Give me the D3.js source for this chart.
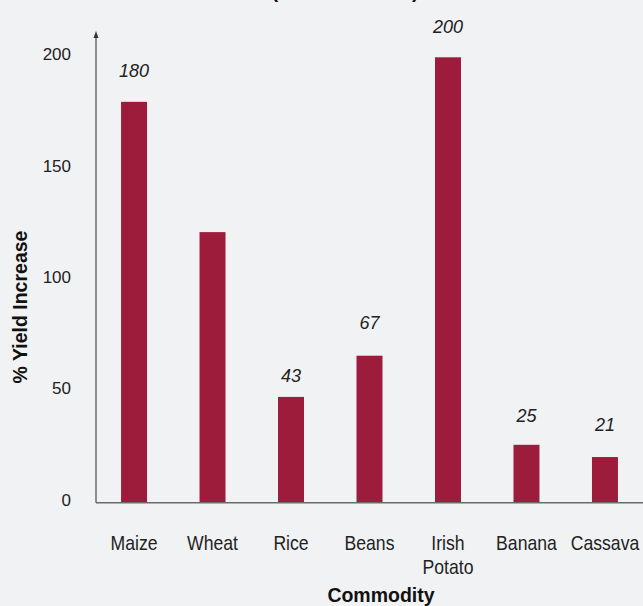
<!DOCTYPE html>
<html>
<head>
<meta charset="utf-8">
<script src="https://cdn.jsdelivr.net/npm/d3@7"></script>
<style>
  html, body { margin: 0; padding: 0; background: #f1f2f4; }
  svg { display: block; }
</style>
</head>
<body>
<svg id="chart" width="643" height="606"></svg>
<script>
// ---- data ----
const categories = ["Maize", "Wheat", "Rice", "Beans", "Irish Potato", "Banana", "Cassava"];
const yieldIncrease = [180, 121.5, 47.5, 66, 200, 26, 20.5];
const valueLabels = ["180", null, "43", "67", "200", "25", "21"];
const yTicks = [0, 50, 100, 150, 200];
const titleText = "(Yield Increase)";
const xTitle = "Commodity";
const yTitle = "% Yield Increase";

// ---- layout ----
const W = 643, H = 606;
const svg = d3.select("#chart");
const yBase = 502.7, yTop = 57.3;

const x = d3.scaleBand().domain(categories).range([97.5, 641.5]).paddingInner(0.669).paddingOuter(0.3);
const y = d3.scaleLinear().domain([0, 200]).range([yBase, yTop]);

svg.append("rect").attr("width", W).attr("height", H).attr("fill", "#f1f2f4");

// cut-off title (only its lower edge shows, as in the reference)
svg.append("text").attr("x", 345).attr("y", -2).attr("text-anchor", "middle")
  .attr("font-family", "Liberation Sans, Arial, sans-serif").attr("font-weight", "bold")
  .attr("font-size", 20).attr("fill", "#111").text(titleText);

// bars
svg.selectAll("rect.bar").data(categories).enter().append("rect")
  .attr("class", "bar")
  .attr("x", d => x(d))
  .attr("width", x.bandwidth())
  .attr("y", (d, i) => y(yieldIncrease[i]))
  .attr("height", (d, i) => yBase - y(yieldIncrease[i]))
  .attr("fill", "#9d1b3b");

// value labels
svg.selectAll("text.val").data(categories).enter().append("text")
  .attr("class", "val")
  .filter((d, i) => valueLabels[i] !== null)
  .attr("x", d => x(d) + x.bandwidth() / 2)
  .attr("y", d => y(+valueLabels[categories.indexOf(d)]) - 31)
  .attr("dy", "0.35em")
  .attr("text-anchor", "middle")
  .attr("font-family", "Liberation Sans, Arial, sans-serif")
  .attr("font-style", "italic")
  .attr("font-size", 18)
  .attr("fill", "#222")
  .text(d => valueLabels[categories.indexOf(d)]);

// axes lines
const axisColor = "#6b6b6b";
svg.append("line").attr("x1", 96).attr("x2", W + 2).attr("y1", yBase).attr("y2", yBase)
  .attr("stroke", axisColor).attr("stroke-width", 1.5);
svg.append("line").attr("x1", 96).attr("x2", 96).attr("y1", yBase).attr("y2", 35)
  .attr("stroke", axisColor).attr("stroke-width", 1.5);
svg.append("path").attr("d", "M93.5,38 L96,31 L98.5,38 Z").attr("fill", "#333");

// y tick labels
const yAxis = d3.axisLeft(y).tickValues(yTicks).tickSize(0).tickPadding(0);
const gy = svg.append("g").attr("transform", "translate(71,-3)").call(yAxis);
gy.select(".domain").remove();
gy.selectAll("text").attr("font-family", "Liberation Sans, Arial, sans-serif")
  .attr("font-size", 17).attr("fill", "#222");

// x category labels (slightly condensed, as in the reference)
const xl = svg.selectAll("text.cat").data(categories).enter().append("text")
  .attr("class", "cat")
  .attr("transform", d => `translate(${x(d) + x.bandwidth() / 2},550) scale(0.86,1)`)
  .attr("text-anchor", "middle")
  .attr("font-family", "Liberation Sans, Arial, sans-serif")
  .attr("font-size", 20.5)
  .attr("fill", "#222");
xl.each(function(d) {
  const words = d.split(" ");
  const t = d3.select(this);
  words.forEach((w, i) => {
    t.append("tspan").attr("x", 0).attr("dy", i === 0 ? 0 : 24.5).text(w);
  });
});

// axis titles
svg.append("text").attr("x", 381).attr("y", 601.5).attr("text-anchor", "middle")
  .attr("font-family", "Liberation Sans, Arial, sans-serif").attr("font-weight", "bold")
  .attr("font-size", 19.5).attr("fill", "#111").text(xTitle);
svg.append("text").attr("transform", "translate(27,307) rotate(-90)").attr("text-anchor", "middle")
  .attr("font-family", "Liberation Sans, Arial, sans-serif").attr("font-weight", "bold")
  .attr("font-size", 19.5).attr("fill", "#111").text(yTitle);
</script>
</body>
</html>
